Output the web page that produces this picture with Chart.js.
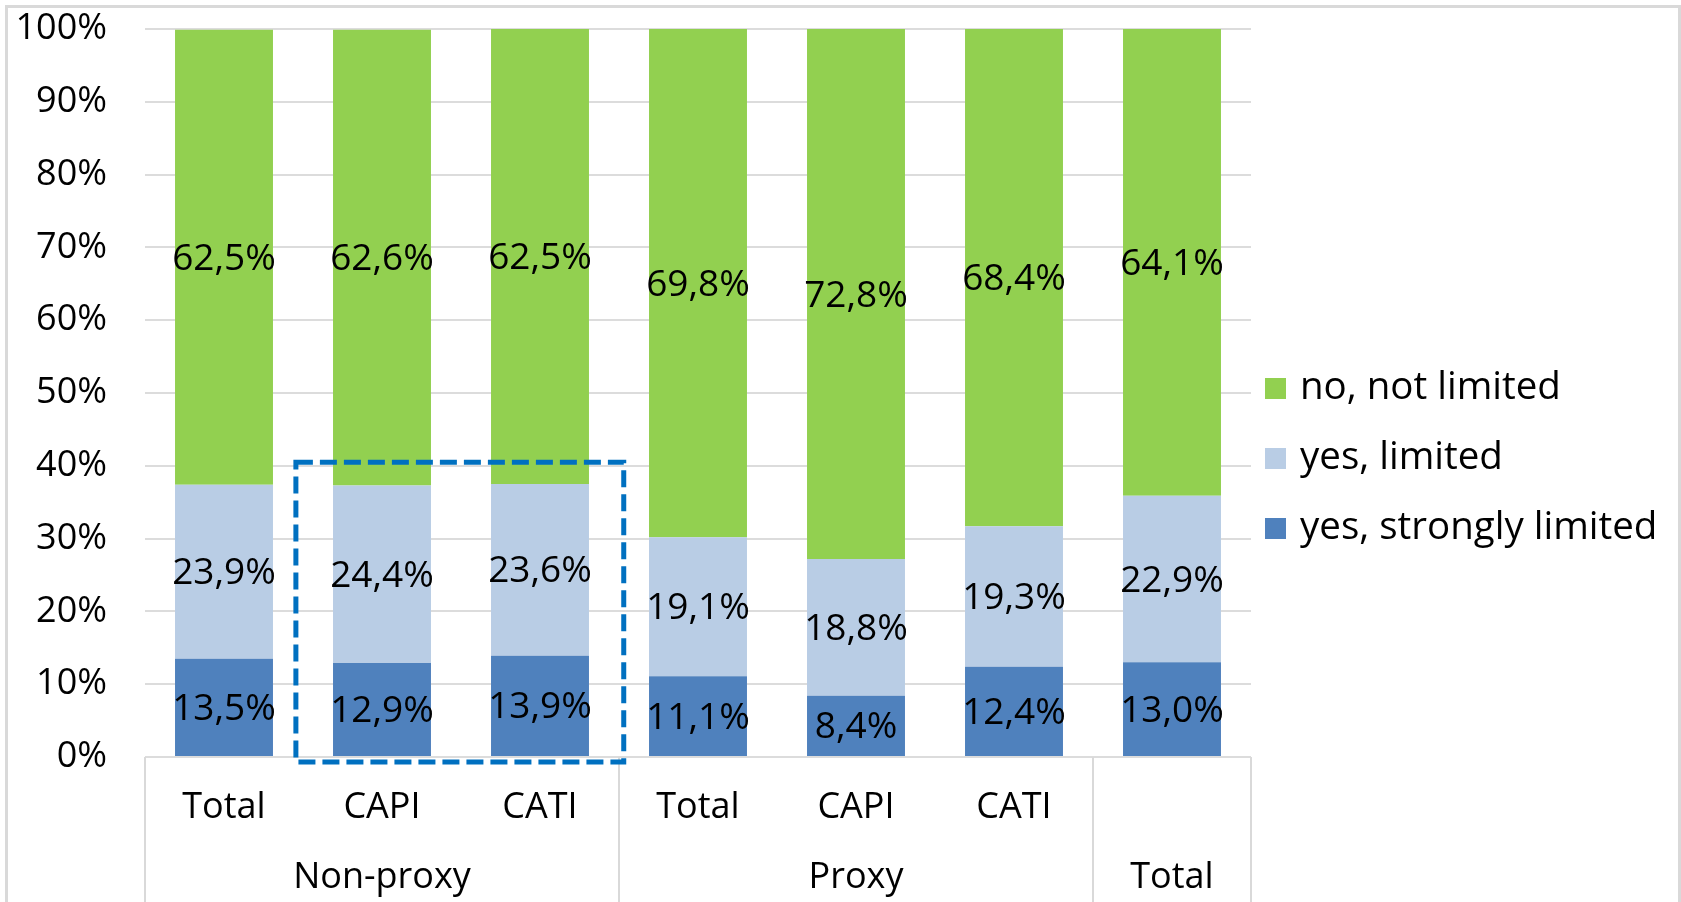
<!DOCTYPE html>
<html>
<head>
<meta charset="utf-8">
<script src="https://cdn.jsdelivr.net/npm/chart.js@4.4.1/dist/chart.umd.min.js"></script>
<style>
  html, body { margin: 0; padding: 0; background: #fff; overflow: hidden; }
  #wrap { position: relative; width: 1681px; height: 902px; }
  #frame { position: absolute; left: 5px; top: 5px; width: 1670px; height: 1000px; border: 3px solid #d9d9d9; pointer-events: none; }
</style>
</head>
<body>
<div id="wrap">
  <canvas id="limitChart" width="1681" height="902"></canvas>
  <div id="frame"></div>
</div>
<script>
const categories = ["Total", "CAPI", "CATI", "Total", "CAPI", "CATI", ""];
const groups = ["Non-proxy", "Proxy", "Total"];
const groupSizes = [3, 3, 1];
const strongly = [13.5, 12.9, 13.9, 11.1, 8.4, 12.4, 13.0];
const limited = [23.9, 24.4, 23.6, 19.1, 18.8, 19.3, 22.9];
const notLimited = [62.5, 62.6, 62.5, 69.8, 72.8, 68.4, 64.1];
const yTicks = [0, 10, 20, 30, 40, 50, 60, 70, 80, 90, 100];
// dashed frame around Non-proxy CAPI / CATI
const highlight = { first: 1, last: 2, top: 40.5 };

const font = '"Open Sans", "DejaVu Sans", sans-serif';

const fmt = v => v.toFixed(1).replace(".", ",") + "%";

const valueLabels = {
  id: "valueLabels",
  afterDatasetsDraw(chart) {
    const ctx = chart.ctx;
    ctx.save();
    ctx.font = "37px " + font;
    ctx.fillStyle = "#000";
    ctx.textAlign = "center";
    ctx.textBaseline = "middle";
    chart.data.datasets.forEach((ds, i) => {
      chart.getDatasetMeta(i).data.forEach((bar, j) => {
        const p = bar.getCenterPoint();
        ctx.fillText(fmt(ds.data[j]), p.x, p.y + 2);
      });
    });
    ctx.restore();
  }
};

const groupAxis = {
  id: "groupAxis",
  afterDraw(chart) {
    const ctx = chart.ctx;
    const x = chart.scales.x;
    const top = chart.chartArea.bottom;
    ctx.save();
    ctx.strokeStyle = "#d9d9d9";
    ctx.lineWidth = 2;
    ctx.font = "36px " + font;
    ctx.fillStyle = "#000";
    ctx.textAlign = "center";
    ctx.textBaseline = "middle";
    let start = 0;
    const edge = i => Math.round(x.getPixelForValue(i - 0.5));
    ctx.beginPath();
    ctx.moveTo(edge(0), top);
    ctx.lineTo(edge(0), chart.height);
    groups.forEach((g, k) => {
      const end = start + groupSizes[k];
      ctx.moveTo(edge(end), top);
      ctx.lineTo(edge(end), chart.height);
      ctx.fillText(g, (edge(start) + edge(end)) / 2, top + 121);
      start = end;
    });
    ctx.stroke();

    // highlight box
    const cw = x.getPixelForValue(1) - x.getPixelForValue(0);
    const y = chart.scales.y;
    ctx.strokeStyle = "#0070c0";
    ctx.lineWidth = 5;
    ctx.setLineDash([17, 7]);
    ctx.strokeRect(
      x.getPixelForValue(highlight.first) - cw * 0.545,
      y.getPixelForValue(highlight.top),
      x.getPixelForValue(highlight.last) - x.getPixelForValue(highlight.first) + cw * 1.075,
      y.getPixelForValue(0) - y.getPixelForValue(highlight.top) + 5
    );
    ctx.restore();
  }
};

const sideLegend = {
  id: "sideLegend",
  afterDraw(chart) {
    const ctx = chart.ctx;
    const left = chart.chartArea.right + 14;
    ctx.save();
    ctx.font = "38.5px " + font;
    ctx.textBaseline = "middle";
    ctx.textAlign = "left";
    const items = chart.data.datasets.slice().reverse();
    items.forEach((ds, i) => {
      const cy = 388 + i * 70;
      ctx.fillStyle = ds.backgroundColor;
      ctx.fillRect(left, cy - 10, 21, 21);
      ctx.fillStyle = "#000";
      ctx.fillText(ds.label, left + 35, cy);
    });
    ctx.restore();
  }
};

new Chart(document.getElementById("limitChart"), {
  type: "bar",
  data: {
    labels: categories,
    datasets: [
      { label: "yes, strongly limited", data: strongly, backgroundColor: "#4f81bd" },
      { label: "yes, limited", data: limited, backgroundColor: "#b9cde5" },
      { label: "no, not limited", data: notLimited, backgroundColor: "#92d050" }
    ]
  },
  options: {
    responsive: false,
    animation: false,
    devicePixelRatio: 1,
    layout: { padding: { top: 29, right: 430, bottom: 0, left: 0 } },
    datasets: { bar: { categoryPercentage: 0.62, barPercentage: 1 } },
    plugins: { legend: { display: false }, tooltip: { enabled: false } },
    scales: {
      x: {
        stacked: true,
        grid: { display: false },
        border: { display: false },
        ticks: { color: "#000", font: { family: font, size: 36 }, padding: 21, maxRotation: 0, autoSkip: false },
        afterFit: s => { s.height = 145; }
      },
      y: {
        stacked: true,
        min: 0,
        max: 100,
        grid: { color: "#dcdcdc", lineWidth: 2, drawTicks: false },
        border: { display: false },
        ticks: { color: "#000", font: { family: font, size: 36 }, padding: 38, callback: v => v + "%" },
        afterBuildTicks: s => { s.ticks = yTicks.map(v => ({ value: v })); },
        afterFit: s => { s.width = 145; s.paddingTop = 0; s.paddingBottom = 0; }
      }
    }
  },
  plugins: [valueLabels, groupAxis, sideLegend]
});
</script>
</body>
</html>
